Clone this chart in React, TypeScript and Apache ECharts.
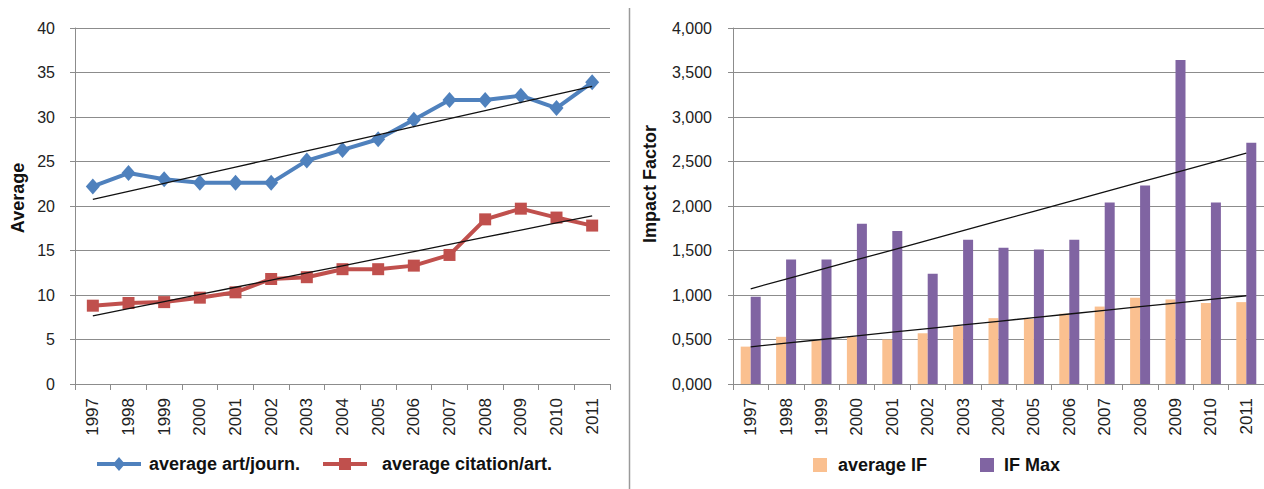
import React, { useEffect, useRef } from "react";
import * as echarts from "echarts";

const years = ["1997", "1998", "1999", "2000", "2001", "2002", "2003", "2004", "2005", "2006", "2007", "2008", "2009", "2010", "2011"];
const artPerJournal = [22.2, 23.7, 23.0, 22.6, 22.6, 22.6, 25.1, 26.3, 27.5, 29.7, 31.9, 31.9, 32.4, 31.0, 33.9];
const citationPerArt = [8.8, 9.1, 9.2, 9.7, 10.3, 11.8, 12.0, 12.9, 12.9, 13.3, 14.5, 18.5, 19.7, 18.7, 17.8];
const averageIF = [0.42, 0.53, 0.49, 0.53, 0.5, 0.57, 0.65, 0.74, 0.73, 0.79, 0.87, 0.97, 0.95, 0.91, 0.92];
const maxIF = [0.98, 1.4, 1.4, 1.8, 1.72, 1.24, 1.62, 1.53, 1.51, 1.62, 2.04, 2.23, 3.64, 2.04, 2.71];

function trend(values: number[]): number[] {
  const n = values.length;
  const mx = (n - 1) / 2;
  const my = values.reduce((a, b) => a + b, 0) / n;
  let sxy = 0;
  let sxx = 0;
  values.forEach((v, i) => {
    sxy += (i - mx) * (v - my);
    sxx += (i - mx) * (i - mx);
  });
  const b = sxy / sxx;
  return values.map((_, i) => +(my + b * (i - mx)).toFixed(4));
}

const GRID_COLOR = "#8c8c8c";
const BLUE = "#4f81bd";
const RED = "#c0504d";
const ORANGE = "#fac090";
const PURPLE = "#8064a2";

const DIAMOND_ICON = "path://M0,5L44,5L44,9L0,9Z M22,0L28,7L22,14L16,7Z";
const SQUARE_ICON = "path://M0,5L44,5L44,9L0,9Z M16,1L28,1L28,13L16,13Z";

export default function App() {
  const ref = useRef<HTMLDivElement>(null);
  useEffect(() => {
    document.body.style.margin = "0";
    const chart = echarts.init(ref.current!, undefined, { renderer: "svg" });
    const xAxisCommon = {
      type: "category" as const,
      data: years,
      boundaryGap: true,
      axisLine: { lineStyle: { color: GRID_COLOR, width: 1 } },
      axisTick: { show: true, length: 6, alignWithLabel: false, lineStyle: { color: GRID_COLOR } },
      axisLabel: { rotate: 90, margin: 14, color: "#222", fontFamily: "Liberation Sans", fontSize: 17, interval: 0 },
    };
    const yAxisCommon = {
      type: "value" as const,
      axisLine: { show: true, lineStyle: { color: GRID_COLOR, width: 1 } },
      axisTick: { show: true, length: 5, lineStyle: { color: GRID_COLOR } },
      splitLine: { show: true, lineStyle: { color: GRID_COLOR, width: 1 } },
    };
    const legendText = { fontFamily: "Liberation Sans", fontWeight: "bold", fontSize: 18, color: "#111" };
    chart.setOption({
      animation: false,
      backgroundColor: "#ffffff",
      grid: [
        { left: 75, width: 535, top: 28, bottom: 105 },
        { left: 733, width: 534, top: 28, bottom: 105 },
      ],
      xAxis: [
        { ...xAxisCommon, gridIndex: 0 },
        { ...xAxisCommon, gridIndex: 1 },
      ],
      yAxis: [
        {
          ...yAxisCommon,
          gridIndex: 0,
          min: 0,
          max: 40,
          interval: 5,
          axisLabel: { margin: 20, color: "#222", fontFamily: "Liberation Sans", fontSize: 16 },
        },
        {
          ...yAxisCommon,
          gridIndex: 1,
          min: 0,
          max: 4,
          interval: 0.5,
          axisLabel: {
            margin: 21,
            color: "#222",
            fontFamily: "Liberation Sans",
            fontSize: 16,
            formatter: (v: number) => v.toFixed(3).replace(".", ","),
          },
        },
      ],
      legend: [
        {
          left: 97,
          top: 455,
          padding: 0,
          itemWidth: 44,
          itemHeight: 14,
          data: [{ name: "average art/journ.", icon: DIAMOND_ICON, itemStyle: { color: BLUE } }],
          textStyle: { ...legendText, padding: [0, 0, 0, 3] },
        },
        {
          left: 323,
          top: 455,
          padding: 0,
          itemWidth: 44,
          itemHeight: 14,
          data: [{ name: "average citation/art.", icon: SQUARE_ICON, itemStyle: { color: RED } }],
          textStyle: { ...legendText, padding: [0, 0, 0, 10] },
        },
        {
          left: 813,
          top: 456,
          padding: 0,
          itemWidth: 14,
          itemHeight: 14,
          icon: "rect",
          data: ["average IF"],
          textStyle: { ...legendText, padding: [0, 0, 0, 6] },
        },
        {
          left: 980,
          top: 456,
          padding: 0,
          itemWidth: 14,
          itemHeight: 14,
          icon: "rect",
          data: ["IF Max"],
          textStyle: { ...legendText, padding: [0, 0, 0, 5] },
        },
      ],
      graphic: [
        {
          type: "text",
          x: 18,
          y: 198,
          rotation: Math.PI / 2,
          style: {
            text: "Average",
            fontFamily: "Liberation Sans",
            fontWeight: "bold",
            fontSize: 18,
            fill: "#111",
            align: "center",
            verticalAlign: "middle",
          },
        },
        {
          type: "text",
          x: 650,
          y: 184,
          rotation: Math.PI / 2,
          style: {
            text: "Impact Factor",
            fontFamily: "Liberation Sans",
            fontWeight: "bold",
            fontSize: 18,
            fill: "#111",
            align: "center",
            verticalAlign: "middle",
          },
        },
        {
          type: "line",
          shape: { x1: 629.5, y1: 8, x2: 629.5, y2: 489 },
          style: { stroke: "#9a9a9a", lineWidth: 1.5 },
        },
      ],
      series: [
        {
          name: "average art/journ.",
          type: "line",
          xAxisIndex: 0,
          yAxisIndex: 0,
          data: artPerJournal,
          symbol: "diamond",
          symbolSize: [14, 16],
          lineStyle: { color: BLUE, width: 4 },
          itemStyle: { color: BLUE },
        },
        {
          name: "average citation/art.",
          type: "line",
          xAxisIndex: 0,
          yAxisIndex: 0,
          data: citationPerArt,
          symbol: "rect",
          symbolSize: 12,
          lineStyle: { color: RED, width: 4 },
          itemStyle: { color: RED },
        },
        {
          name: "trend art",
          type: "line",
          xAxisIndex: 0,
          yAxisIndex: 0,
          data: trend(artPerJournal),
          symbol: "none",
          lineStyle: { color: "#111", width: 1.3 },
          z: 5,
        },
        {
          name: "trend citation",
          type: "line",
          xAxisIndex: 0,
          yAxisIndex: 0,
          data: trend(citationPerArt),
          symbol: "none",
          lineStyle: { color: "#111", width: 1.3 },
          z: 5,
        },
        {
          name: "average IF",
          type: "bar",
          xAxisIndex: 1,
          yAxisIndex: 1,
          data: averageIF,
          barWidth: 10,
          barGap: "0%",
          itemStyle: { color: ORANGE },
        },
        {
          name: "IF Max",
          type: "bar",
          xAxisIndex: 1,
          yAxisIndex: 1,
          data: maxIF,
          barWidth: 10,
          barGap: "0%",
          itemStyle: { color: PURPLE },
        },
        {
          name: "trend IF max",
          type: "line",
          xAxisIndex: 1,
          yAxisIndex: 1,
          data: trend(maxIF),
          symbol: "none",
          lineStyle: { color: "#111", width: 1.3 },
          z: 5,
        },
        {
          name: "trend IF avg",
          type: "line",
          xAxisIndex: 1,
          yAxisIndex: 1,
          data: trend(averageIF),
          symbol: "none",
          lineStyle: { color: "#111", width: 1.3 },
          z: 5,
        },
      ],
    });
    return () => chart.dispose();
  }, []);
  return <div ref={ref} style={{ position: "fixed", left: 0, top: 0, width: 1264, height: 489 }} />;
}
